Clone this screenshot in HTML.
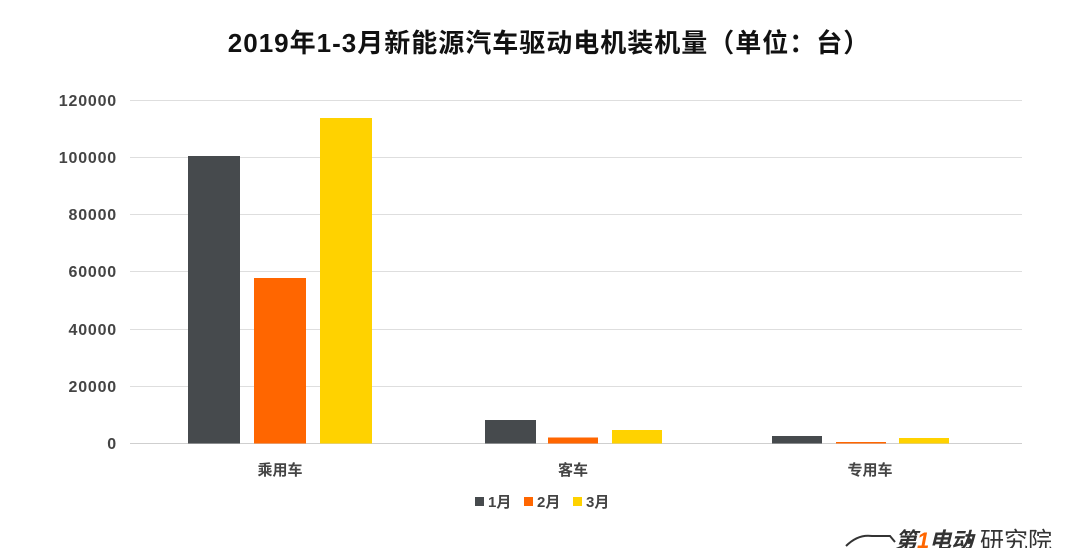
<!DOCTYPE html>
<html><head><meta charset="utf-8"><style>
body{margin:0;background:#fff;}
svg{display:block;font-family:"Liberation Sans","Noto Sans CJK SC",sans-serif;}
</style></head><body>
<svg width="1080" height="548" viewBox="0 0 1080 548">
<rect width="1080" height="548" fill="#fff"/>
<text x="549" y="52" text-anchor="middle" font-size="26" letter-spacing="1" font-weight="bold" fill="#111">2019年1-3月新能源汽车驱动电机装机量（单位：台）</text>
<g stroke="#dedede" stroke-width="1">
<line x1="130" y1="100.5" x2="1022" y2="100.5"/>
<line x1="130" y1="157.5" x2="1022" y2="157.5"/>
<line x1="130" y1="214.5" x2="1022" y2="214.5"/>
<line x1="130" y1="271.5" x2="1022" y2="271.5"/>
<line x1="130" y1="329.5" x2="1022" y2="329.5"/>
<line x1="130" y1="386.5" x2="1022" y2="386.5"/>
</g>
<line x1="130" y1="443.5" x2="1022" y2="443.5" stroke="#cfcfcf"/>
<g font-size="16" letter-spacing="0.8" font-weight="bold" fill="#444" text-anchor="end">
<text x="117" y="106">120000</text>
<text x="117" y="163">100000</text>
<text x="117" y="220">80000</text>
<text x="117" y="277">60000</text>
<text x="117" y="335">40000</text>
<text x="117" y="392">20000</text>
<text x="117" y="449">0</text>
</g>
<rect x="188" y="156" width="52" height="287.5" fill="#464a4d"/>
<rect x="254" y="278" width="52" height="165.5" fill="#ff6600"/>
<rect x="320" y="118" width="52" height="325.5" fill="#ffd200"/>
<rect x="485" y="420" width="51" height="23.5" fill="#464a4d"/>
<rect x="548" y="437.5" width="50" height="6" fill="#ff6600"/>
<rect x="612" y="430" width="50" height="13.5" fill="#ffd200"/>
<rect x="772" y="436" width="50" height="7.5" fill="#464a4d"/>
<rect x="836" y="442" width="50" height="1.5" fill="#ff6600"/>
<rect x="899" y="438" width="50" height="5.5" fill="#ffd200"/>
<g font-size="15" font-weight="bold" fill="#444" text-anchor="middle">
<text x="280" y="475">乘用车</text>
<text x="573" y="475">客车</text>
<text x="870" y="475">专用车</text>
</g>
<rect x="475" y="497" width="9" height="9" fill="#464a4d"/>
<rect x="524" y="497" width="9" height="9" fill="#ff6600"/>
<rect x="573" y="497" width="9" height="9" fill="#ffd200"/>
<g font-size="15" font-weight="bold" fill="#444">
<text x="488" y="507">1月</text>
<text x="537" y="507">2月</text>
<text x="586" y="507">3月</text>
</g>
<path d="M846 546 Q858 534 872 536 L890 536 L895 542" stroke="#333" stroke-width="2" fill="none"/>
<text x="895" y="548" font-size="22" font-style="italic" font-weight="bold" fill="#333">第<tspan fill="#ff6600">1</tspan>电动</text>
<circle cx="969" cy="541" r="3" fill="#333"/>
<text x="980" y="549" font-size="24" fill="#333">研究院</text>
</svg>
</body></html>
